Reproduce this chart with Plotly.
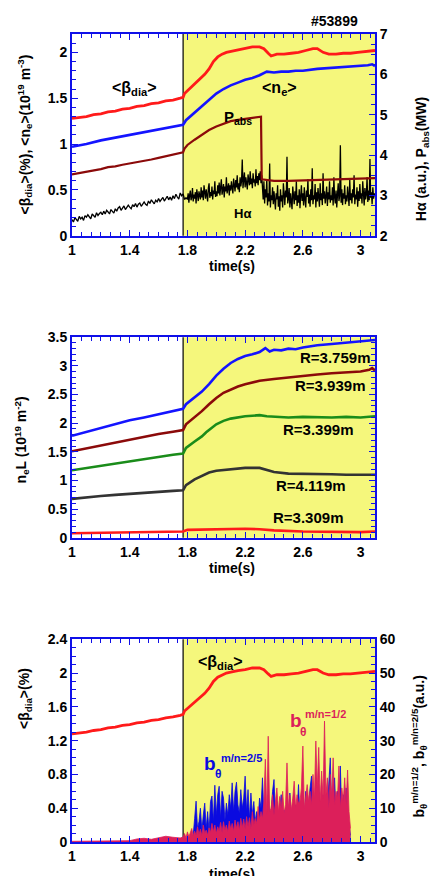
import numpy as np
import plotly.graph_objects as go

FONT = "Liberation Sans, Arial, Helvetica, sans-serif"
AX_BLUE = "#1010e8"
YELLOW = "#f5f77c"
T_HEAT = 1.77  # start of the heating phase (shaded)

# ---------------- Panel 1 ----------------
t_beta = [1.0, 1.05, 1.1, 1.15, 1.2, 1.25, 1.3, 1.35, 1.4, 1.45, 1.5, 1.55, 1.6, 1.65, 1.7, 1.75,
          1.77, 1.78, 1.8, 1.83, 1.86, 1.89, 1.92, 1.95, 1.98, 2.01, 2.04, 2.07, 2.1, 2.15, 2.2,
          2.25, 2.3, 2.33, 2.36, 2.38, 2.42, 2.47, 2.52, 2.57, 2.62, 2.67, 2.7, 2.74, 2.78, 2.83,
          2.88, 2.93, 2.98, 3.03, 3.1]
beta_dia = [1.28, 1.29, 1.30, 1.32, 1.33, 1.35, 1.36, 1.38, 1.39, 1.41, 1.42, 1.44, 1.45, 1.47, 1.48, 1.50,
            1.51, 1.55, 1.58, 1.63, 1.68, 1.72, 1.76, 1.82, 1.90, 1.95, 1.98, 2.00, 2.01, 2.03, 2.04,
            2.06, 2.06, 2.04, 1.99, 1.96, 1.98, 1.98, 1.99, 2.00, 2.02, 2.04, 2.04, 2.00, 1.98, 1.98,
            1.99, 1.99, 2.00, 2.01, 2.02]

t_ne = [1.0, 1.1, 1.2, 1.3, 1.4, 1.5, 1.6, 1.7, 1.77, 1.79, 1.82, 1.86, 1.9, 1.95, 2.0, 2.05, 2.1,
        2.15, 2.2, 2.25, 2.3, 2.35, 2.4, 2.45, 2.5, 2.55, 2.6, 2.7, 2.8, 2.9, 3.0, 3.05, 3.08, 3.1]
ne_avg = [0.97, 1.00, 1.04, 1.07, 1.10, 1.13, 1.16, 1.19, 1.21, 1.26, 1.30, 1.36, 1.41, 1.48, 1.55, 1.60, 1.64,
          1.67, 1.70, 1.72, 1.75, 1.79, 1.78, 1.79, 1.79, 1.80, 1.80, 1.82, 1.83, 1.84, 1.85, 1.86, 1.87, 1.85]

t_pabs = [1.0, 1.05, 1.1, 1.15, 1.2, 1.25, 1.3, 1.35, 1.4, 1.45, 1.5, 1.55, 1.6, 1.65, 1.7, 1.75, 1.77,
          1.78, 1.8, 1.85, 1.9, 1.95, 2.0, 2.05, 2.1, 2.15, 2.2, 2.25, 2.3, 2.31, 2.315, 2.35, 2.4,
          2.5, 2.6, 2.7, 2.8, 2.9, 3.0, 3.1]
p_abs = [3.52, 3.55, 3.58, 3.62, 3.65, 3.70, 3.72, 3.76, 3.79, 3.82, 3.86, 3.89, 3.93, 3.97, 4.00, 4.05, 4.07,
         4.16, 4.25, 4.38, 4.50, 4.62, 4.71, 4.78, 4.84, 4.87, 4.90, 4.93, 4.95, 4.95, 3.40, 3.38, 3.36,
         3.36, 3.37, 3.38, 3.39, 3.40, 3.42, 3.43]

# H-alpha: 10 ms samples before heating, 5 ms samples after
t_ha_pre = np.round(np.arange(1.0, 1.7951, 0.01), 3)
h_alpha_pre = [
    2.40, 2.34, 2.45, 2.41, 2.36, 2.48, 2.42, 2.46, 2.38, 2.50,
    2.46, 2.52, 2.45, 2.42, 2.54, 2.50, 2.46, 2.57, 2.50, 2.55,
    2.58, 2.52, 2.61, 2.54, 2.63, 2.59, 2.54, 2.65, 2.60, 2.56,
    2.67, 2.61, 2.69, 2.72, 2.63, 2.70, 2.74, 2.65, 2.71, 2.76,
    2.71, 2.67, 2.77, 2.72, 2.80, 2.71, 2.78, 2.81, 2.73, 2.79,
    2.84, 2.78, 2.75, 2.86, 2.80, 2.89, 2.83, 2.79, 2.88, 2.84,
    2.92, 2.85, 2.90, 2.95, 2.86, 2.93, 2.98, 2.89, 2.96, 2.88,
    2.99, 2.92, 3.03, 2.96, 2.91, 3.06, 2.99, 3.04, 2.90, 2.94,
]
t_ha_post = np.round(np.arange(1.80, 3.1001, 0.005), 3)
h_alpha_post = [
    2.90, 3.05, 2.82, 3.00, 3.12, 2.88, 2.96, 3.18, 2.85, 3.02, 2.92, 3.08, 2.80, 3.15, 2.97, 2.86, 3.10, 3.02, 2.90, 3.20,
    2.95, 3.12, 2.88, 3.25, 3.00, 2.92, 3.15, 3.05, 2.85, 3.18, 3.30, 2.94, 3.08, 2.98, 3.22, 2.90, 3.12, 3.03, 3.35, 2.96,
    3.10, 2.98, 3.25, 3.05, 3.32, 3.00, 3.18, 3.40, 3.02, 3.15, 3.28, 2.95, 3.22, 3.10, 3.45, 3.05, 3.20, 3.30, 3.00, 3.25,
    3.12, 3.35, 3.18, 3.05, 3.42, 3.25, 3.10, 3.38, 3.20, 3.50, 3.15, 3.30, 3.08, 3.45, 3.22, 3.35, 3.89, 3.18, 3.40, 3.57,
    3.20, 3.45, 3.30, 3.15, 3.52, 3.35, 3.25, 3.60, 3.28, 3.42, 3.18, 3.55, 3.32, 3.40, 3.22, 3.65, 3.30, 3.48, 3.25, 3.55,
    3.38, 3.60, 3.30, 3.50, 3.10, 2.90, 3.35, 2.80, 3.15, 2.95, 3.40, 2.75, 3.05, 2.85, 3.79, 2.70, 3.00, 2.88, 3.20, 2.78,
    3.10, 2.82, 2.65, 3.05, 2.90, 3.25, 2.72, 2.98, 2.62, 3.15, 2.85, 3.00, 2.70, 3.30, 2.88, 2.76, 3.12, 2.95, 3.96, 2.80,
    2.92, 3.18, 2.70, 3.05, 2.85, 2.66, 3.22, 2.95, 2.78, 3.10, 2.88, 3.35, 2.74, 3.00, 2.82, 3.15, 2.68, 2.98, 3.25, 2.86,
    3.05, 2.75, 3.20, 2.90, 2.70, 3.12, 2.96, 3.40, 2.80, 3.02, 2.72, 3.15, 2.88, 3.67, 2.78, 3.00, 2.90, 3.28, 2.70, 3.08,
    2.85, 3.18, 2.94, 2.72, 3.30, 2.88, 3.05, 2.76, 3.55, 2.92, 3.10, 2.80, 2.98, 3.22, 2.74, 3.08, 2.90, 3.35, 2.82, 3.00,
    2.88, 3.20, 2.75, 3.45, 2.95, 2.80, 3.12, 2.70, 3.02, 3.30, 2.86, 2.98, 4.24, 2.82, 3.15, 2.76, 3.05, 2.92, 3.25, 2.78,
    3.00, 2.85, 3.22, 2.92, 2.74, 3.38, 2.88, 3.05, 2.80, 3.15, 2.95, 3.50, 2.78, 3.02, 2.90, 3.20, 2.72, 3.10, 2.86, 3.28,
    2.92, 3.05, 2.80, 3.35, 2.96, 2.75, 3.18, 2.90, 3.02, 3.45, 2.84, 3.12, 2.88, 3.90, 2.94, 3.08, 2.78, 3.20, 2.92, 3.05,
    2.98,
]

# ---------------- Panel 2 : line densities ----------------
t_r3759 = [1.0, 1.1, 1.2, 1.3, 1.4, 1.5, 1.6, 1.7, 1.77, 1.79, 1.85, 1.9, 1.95, 2.0, 2.05, 2.1, 2.15,
           2.2, 2.25, 2.3, 2.34, 2.37, 2.4, 2.45, 2.5, 2.55, 2.6, 2.7, 2.8, 2.9, 3.0, 3.1]
nl_r3759 = [1.78, 1.85, 1.92, 1.99, 2.05, 2.10, 2.16, 2.21, 2.25, 2.33, 2.45, 2.55, 2.68, 2.83, 2.95, 3.05, 3.12,
            3.17, 3.20, 3.24, 3.31, 3.25, 3.28, 3.27, 3.30, 3.29, 3.32, 3.36, 3.38, 3.40, 3.42, 3.45]

t_r3939 = [1.0, 1.1, 1.2, 1.3, 1.4, 1.5, 1.6, 1.7, 1.77, 1.79, 1.85, 1.9, 1.95, 2.0, 2.05, 2.1, 2.15,
           2.2, 2.25, 2.3, 2.4, 2.5, 2.6, 2.7, 2.8, 2.9, 3.0, 3.06, 3.08, 3.1]
nl_r3939 = [1.51, 1.56, 1.62, 1.67, 1.72, 1.77, 1.81, 1.85, 1.88, 1.98, 2.10, 2.21, 2.33, 2.44, 2.53, 2.59, 2.64,
            2.68, 2.71, 2.74, 2.77, 2.80, 2.82, 2.85, 2.87, 2.89, 2.90, 2.93, 2.96, 2.92]

t_r3399 = [1.0, 1.1, 1.2, 1.3, 1.4, 1.5, 1.6, 1.7, 1.77, 1.79, 1.85, 1.9, 1.93, 1.96, 2.0, 2.05, 2.1,
           2.2, 2.3, 2.35, 2.4, 2.5, 2.6, 2.7, 2.8, 2.9, 3.0, 3.1]
nl_r3399 = [1.18, 1.22, 1.26, 1.30, 1.34, 1.38, 1.41, 1.45, 1.47, 1.57, 1.68, 1.77, 1.84, 1.90, 1.98, 2.04, 2.08,
            2.12, 2.14, 2.12, 2.11, 2.10, 2.11, 2.10, 2.10, 2.11, 2.10, 2.12]

t_r4119 = [1.0, 1.1, 1.2, 1.3, 1.4, 1.5, 1.6, 1.7, 1.77, 1.79, 1.85, 1.9, 1.95, 2.0, 2.1, 2.2, 2.3,
           2.35, 2.4, 2.5, 2.6, 2.7, 2.8, 2.9, 3.0, 3.1]
nl_r4119 = [0.68, 0.71, 0.73, 0.75, 0.77, 0.78, 0.80, 0.82, 0.83, 0.92, 1.02, 1.08, 1.14, 1.17, 1.20, 1.22, 1.22,
            1.19, 1.15, 1.12, 1.12, 1.11, 1.11, 1.10, 1.10, 1.10]

t_r3309 = [1.0, 1.3, 1.5, 1.77, 1.8, 2.0, 2.2, 2.3, 2.4, 2.6, 2.8, 3.0, 3.1]
nl_r3309 = [0.08, 0.09, 0.10, 0.11, 0.14, 0.15, 0.16, 0.15, 0.13, 0.11, 0.10, 0.10, 0.11]

# ---------------- Panel 3 : MHD modes ----------------
t_mode_pre = [1.0, 1.1, 1.2, 1.3, 1.4, 1.45, 1.5, 1.55, 1.6, 1.65, 1.7, 1.75, 1.77]
b12_pre = [0.2, 0.2, 0.3, 0.3, 0.4, 0.9, 1.1, 0.8, 1.3, 1.7, 1.4, 1.2, 1.5]

t_mode = np.round(np.arange(1.78, 2.9351, 0.01), 2)
b_m2n5 = [
    0.3, 0.5, 0.6, 1.0, 0.8, 1.5, 2.0, 7.0, 12.1, 4.0,
    6.0, 10.0, 3.5, 8.0, 11.5, 4.0, 9.0, 3.0, 12.0, 13.6,
    6.0, 16.8, 8.0, 14.0, 16.5, 7.0, 15.0, 13.0, 6.5, 11.5,
    8.0, 14.0, 10.0, 17.5, 9.0, 15.0, 17.7, 11.0, 8.5, 15.5,
    10.0, 13.0, 19.5, 9.0, 15.5, 7.0, 14.5, 8.0, 12.0, 6.0,
    9.0, 7.0, 13.0, 10.0, 19.0, 8.0, 12.5, 6.0, 14.0, 7.5,
    9.0, 15.0, 18.5, 8.0, 12.0, 6.5, 10.0, 14.0, 7.0, 9.5,
    6.0, 12.0, 8.0, 14.5, 7.0, 10.0, 6.0, 11.0, 8.5, 17.0,
    7.0, 10.0, 13.0, 6.5, 15.0, 8.0, 11.0, 16.0, 19.5, 9.0,
    12.0, 7.0, 15.0, 17.0, 8.0, 11.0, 14.0, 7.0, 13.0, 10.0,
    16.0, 24.9, 9.0, 12.0, 19.0, 8.0, 15.0, 11.0, 22.5, 7.0,
    14.0, 10.0, 16.0, 8.0, 5.0, 2.0,
]
b_m1n2 = [
    2.5, 1.2, 3.0, 1.5, 2.8, 4.0, 1.8, 3.2, 2.0, 4.5,
    2.2, 3.8, 1.9, 5.0, 2.5, 3.5, 2.0, 4.2, 2.8, 5.5,
    3.0, 5.0, 2.5, 4.5, 3.2, 5.8, 2.8, 6.0, 3.5, 5.0,
    3.0, 6.2, 3.8, 5.5, 3.2, 6.5, 4.0, 6.0, 3.5, 7.0,
    4.2, 6.8, 3.8, 7.5, 4.5, 7.2, 4.0, 9.0, 5.0, 7.0,
    5.5, 10.5, 6.5, 9.0, 7.0, 12.0, 24.5, 8.0, 31.3, 9.0,
    10.0, 14.0, 8.0, 12.0, 16.0, 9.0, 13.5, 10.0, 15.0, 8.5,
    11.0, 23.4, 10.0, 14.0, 9.5, 13.0, 18.0, 10.0, 14.0, 11.5,
    12.0, 16.0, 28.4, 10.0, 13.0, 17.0, 12.0, 15.0, 11.0, 20.0,
    13.0, 29.9, 16.0, 28.0, 12.0, 21.0, 13.0, 35.8, 14.0, 19.0,
    10.0, 20.0, 13.0, 24.9, 11.0, 15.0, 13.0, 22.5, 10.0, 16.0,
    12.0, 19.0, 11.0, 21.3, 9.0, 4.0,
]

# ---------------- Figure ----------------
fig = go.Figure()

# panel 1
fig.add_trace(go.Scatter(x=t_beta, y=beta_dia, mode="lines", line=dict(color="#ff1a1a", width=2.8),
                         xaxis="x", yaxis="y", showlegend=False))
fig.add_trace(go.Scatter(x=t_ne, y=ne_avg, mode="lines", line=dict(color="#1414ff", width=2.6),
                         xaxis="x", yaxis="y", showlegend=False))
fig.add_trace(go.Scatter(x=list(t_ha_pre) + list(t_ha_post), y=h_alpha_pre + h_alpha_post, mode="lines",
                         line=dict(color="black", width=1.3),
                         xaxis="x", yaxis="y2", showlegend=False))
fig.add_trace(go.Scatter(x=t_pabs, y=p_abs, mode="lines", line=dict(color="#8b0a0a", width=2.2),
                         xaxis="x", yaxis="y2", showlegend=False))

# panel 2
for tt, vv, col in [(t_r3759, nl_r3759, "#1414ff"), (t_r3939, nl_r3939, "#8b0a0a"),
                    (t_r3399, nl_r3399, "#1a8c1a"), (t_r4119, nl_r4119, "#333333"),
                    (t_r3309, nl_r3309, "#ff1a1a")]:
    fig.add_trace(go.Scatter(x=tt, y=vv, mode="lines", line=dict(color=col, width=2.6),
                             xaxis="x2", yaxis="y3", showlegend=False))

# panel 3
CR = "#dc1f5a"
BL = "#0a0ae0"
fig.add_trace(go.Scatter(x=t_beta, y=beta_dia, mode="lines", line=dict(color="#ff1a1a", width=2.8),
                         xaxis="x3", yaxis="y4", showlegend=False))
fig.add_trace(go.Scatter(x=list(t_mode), y=b_m2n5, mode="lines", fill="tozeroy",
                         line=dict(color=BL, width=0.8), fillcolor=BL,
                         xaxis="x3", yaxis="y5", showlegend=False))
fig.add_trace(go.Scatter(x=t_mode_pre + list(t_mode), y=b12_pre + b_m1n2, mode="lines", fill="tozeroy",
                         line=dict(color=CR, width=0.8), fillcolor=CR,
                         xaxis="x3", yaxis="y5", showlegend=False))

tickfont = dict(family=FONT, size=14, color="black", weight="bold")

def xax(anchor):
    return dict(anchor=anchor, domain=[0, 1], range=[1, 3.1], tick0=1, dtick=0.4,
                showline=True, linecolor=AX_BLUE, linewidth=2, mirror="ticks",
                ticks="inside", ticklen=6, tickwidth=1.3, tickcolor=AX_BLUE,
                minor=dict(ticks="inside", ticklen=4, tickwidth=1.1, tickcolor=AX_BLUE,
                           tick0=1, dtick=0.4 / 6),
                showgrid=False, zeroline=False, tickfont=tickfont)

def yax(domain, rng, dtick, mdtick, side="left", mirror=False, overlaying=None, anchor="x"):
    d = dict(domain=domain, range=rng, dtick=dtick, side=side, anchor=anchor,
             showline=True, linecolor=AX_BLUE, linewidth=2, mirror=mirror,
             ticks="inside", ticklen=6, tickwidth=1.3, tickcolor=AX_BLUE,
             minor=dict(ticks="inside", ticklen=4, tickwidth=1.1, tickcolor=AX_BLUE, dtick=mdtick),
             showgrid=False, zeroline=False, tickfont=tickfont)
    if overlaying:
        d["overlaying"] = overlaying
    return d

D1 = [0.7503, 1.0]
D2 = [0.3764, 0.6248]
D3 = [0.0, 0.2509]

fig.update_layout(
    width=435, height=876,
    margin=dict(l=72, r=60, t=34, b=29),
    paper_bgcolor="white", plot_bgcolor="white",
    font=dict(family=FONT, color="black"),
    xaxis=xax("y"),
    xaxis2=xax("y3"),
    xaxis3=xax("y4"),
    yaxis=yax(D1, [0, 2.2], 0.5, 0.1, anchor="x"),
    yaxis2=yax(D1, [2, 7], 1, 0.25, side="right", overlaying="y", anchor="x"),
    yaxis3=yax(D2, [0, 3.5], 0.5, 0.1, mirror="ticks", anchor="x2"),
    yaxis4=yax(D3, [0, 2.4], 0.4, 0.1, anchor="x3"),
    yaxis5=yax(D3, [0, 60], 10, 2.5, side="right", overlaying="y4", anchor="x3"),
)

shapes = []
for xr, yr in [("x", "y"), ("x2", "y3"), ("x3", "y4")]:
    shapes.append(dict(type="rect", xref=xr, yref=f"{yr} domain", x0=T_HEAT, x1=3.1, y0=0, y1=1,
                       fillcolor=YELLOW, line=dict(width=0), layer="below"))
    shapes.append(dict(type="line", xref=xr, yref=f"{yr} domain", x0=T_HEAT, x1=T_HEAT, y0=0, y1=1,
                       line=dict(color="black", width=1.2), layer="below"))
fig.update_layout(shapes=shapes)

def bold(size, color="black"):
    return dict(family=FONT, size=size, color=color, weight="bold")

ann = []
# axis titles
ann.append(dict(text="<β<sub>dia</sub>>(%), <n<sub>e</sub>>(10<sup>19</sup> m<sup>-3</sup>)",
                xref="paper", yref="paper", x=-0.155, y=0.8758, textangle=-90,
                showarrow=False, font=bold(14), xanchor="center", yanchor="middle"))
ann.append(dict(text="Hα (a.u.), P<sub>abs</sub>(MW)", xref="paper", yref="paper", x=1.155, y=0.845,
                textangle=-90, showarrow=False, font=bold(14), xanchor="center", yanchor="middle"))
ann.append(dict(text="n<sub>e</sub>L (10<sup>19</sup> m<sup>-2</sup>)", xref="paper", yref="paper",
                x=-0.165, y=0.497, textangle=-90, showarrow=False, font=bold(14),
                xanchor="center", yanchor="middle"))
ann.append(dict(text="<β<sub>dia</sub>>(%)", xref="paper", yref="paper", x=-0.155, y=0.177,
                textangle=-90, showarrow=False, font=bold(14), xanchor="center", yanchor="middle"))
ann.append(dict(text="b<sub>θ</sub><sup>m/n=1/2</sup>, b<sub>θ</sub><sup>m/n=2/5</sup>(a.u.)",
                xref="paper", yref="paper", x=1.145, y=0.118, textangle=-90, showarrow=False,
                font=bold(14), xanchor="center", yanchor="middle"))
for y in [0.713, 0.3395]:
    ann.append(dict(text="time(s)", xref="paper", yref="paper", x=0.527, y=y, showarrow=False,
                    font=bold(14), xanchor="center", yanchor="middle"))
ann.append(dict(text="time(s)", xref="paper", yref="paper", x=0.527, y=-0.027, showarrow=False,
                font=bold(14), xanchor="center", yanchor="top"))
ann.append(dict(text="#53899", xref="paper", yref="paper", x=0.865, y=1.016, showarrow=False,
                font=bold(14), xanchor="center", yanchor="middle"))

# panel 1 labels
ann.append(dict(text="<β<sub>dia</sub>>", xref="x", yref="y", x=1.43, y=1.61, showarrow=False, font=bold(16)))
ann.append(dict(text="<n<sub>e</sub>>", xref="x", yref="y", x=2.44, y=1.61, showarrow=False, font=bold(16)))
ann.append(dict(text="P<sub>abs</sub>", xref="x", yref="y", x=2.15, y=1.29, showarrow=False, font=bold(15)))
ann.append(dict(text="Hα", xref="x", yref="y", x=2.18, y=0.24, showarrow=False, font=bold(13)))

# panel 2 labels
for txt, x, y in [("R=3.759m", 2.826, 3.15), ("R=3.939m", 2.785, 2.65), ("R=3.399m", 2.708, 1.89),
                  ("R=4.119m", 2.653, 0.913), ("R=3.309m", 2.635, 0.35)]:
    ann.append(dict(text=txt, xref="x2", yref="y3", x=x, y=y, showarrow=False, font=bold(15)))

# panel 3 labels
ann.append(dict(text="<β<sub>dia</sub>>", xref="x3", yref="y4", x=2.03, y=2.12, showarrow=False, font=bold(16)))
ann.append(dict(text="b", xref="x3", yref="y4", x=2.549, y=1.435, showarrow=False, font=bold(19, CR)))
ann.append(dict(text="θ", xref="x3", yref="y4", x=2.604, y=1.306, showarrow=False, font=bold(12, CR)))
ann.append(dict(text="m/n=1/2", xref="x3", yref="y4", x=2.757, y=1.518, showarrow=False, font=bold(11, CR)))
ann.append(dict(text="b", xref="x3", yref="y4", x=1.958, y=0.929, showarrow=False, font=bold(19, BL)))
ann.append(dict(text="θ", xref="x3", yref="y4", x=2.012, y=0.80, showarrow=False, font=bold(12, BL)))
ann.append(dict(text="m/n=2/5", xref="x3", yref="y4", x=2.172, y=1.0, showarrow=False, font=bold(11, BL)))

fig.update_layout(annotations=ann)

fig.write_html("out.html")
